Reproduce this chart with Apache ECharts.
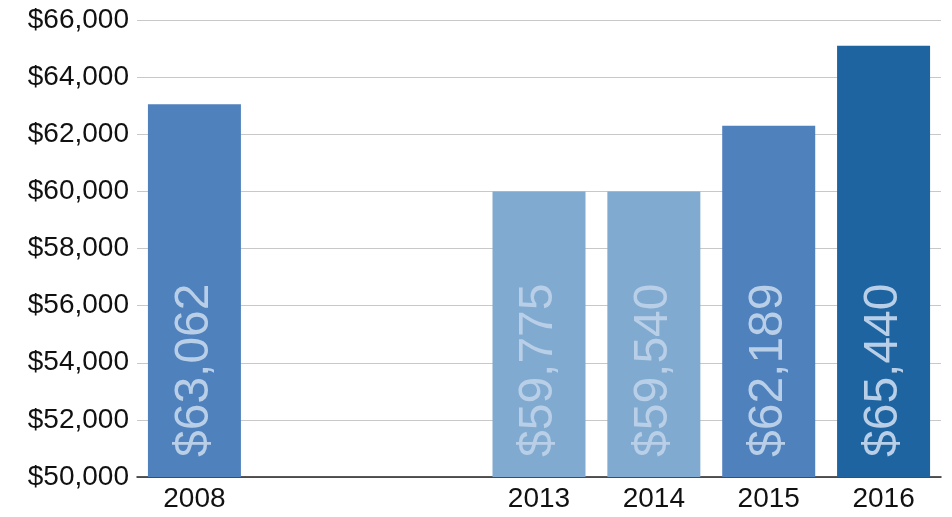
<!DOCTYPE html>
<html><head><meta charset="utf-8">
<script src="https://cdn.jsdelivr.net/npm/echarts@6/dist/echarts.min.js"></script>
<style>html,body{margin:0;padding:0;background:#fff}#c{width:952px;height:517px}</style>
</head><body><div id="c"></div>
<script>
const categories = ['2008', '', '', '2013', '2014', '2015', '2016'];
const barHeights = [63050, null, null, 60000, 60000, 62300, 65100];
const labelValues = [63062, null, null, 59775, 59540, 62189, 65440];
const colors = ['#4f81bd', null, null, '#80aacf', '#80aacf', '#4f81bd', '#1d64a1'];

const chart = echarts.init(document.getElementById('c'));
chart.setOption({
  animation: false,
  grid: { left: 137, right: 11, top: 20, bottom: 40 },
  xAxis: {
    type: 'category', data: categories,
    axisTick: { show: false },
    axisLine: { lineStyle: { color: '#222', width: 1.5 } },
    axisLabel: { color: '#111', fontSize: 28, fontFamily: 'Helvetica, Liberation Sans, Arial', margin: 8 }
  },
  yAxis: {
    type: 'value', min: 50000, max: 66000, interval: 2000,
    axisLine: { show: false }, axisTick: { show: false },
    splitLine: { lineStyle: { color: '#c8c8c8' } },
    axisLabel: { color: '#111', fontSize: 28, fontFamily: 'Helvetica, Liberation Sans, Arial', margin: 8,
      formatter: v => '$' + v.toLocaleString('en-US') }
  },
  series: [{
    type: 'bar', barWidth: 93,
    data: barHeights.map((v, i) => v == null ? null : {
      value: v, itemStyle: { color: colors[i] },
      label: { show: true, formatter: '$' + labelValues[i].toLocaleString('en-US') }
    }),
    label: {
      position: 'insideBottom', rotate: 90, align: 'left', verticalAlign: 'middle',
      distance: 20, color: '#b9cfe8', fontSize: 48, fontFamily: 'Helvetica, Liberation Sans, Arial'
    }
  }]
});
</script></body></html>
